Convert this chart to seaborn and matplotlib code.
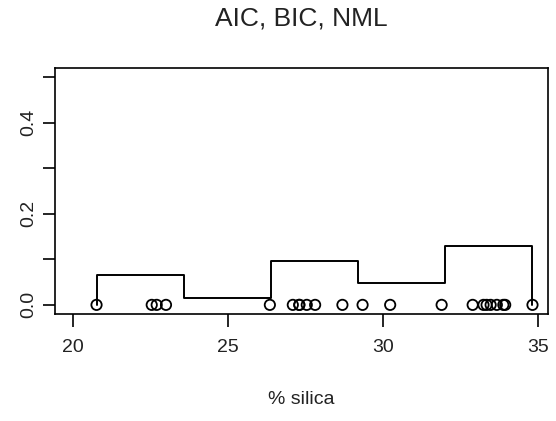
import numpy as np
import pandas as pd
import seaborn as sns
import matplotlib
matplotlib.use("Agg")
import matplotlib.pyplot as plt

# Step 1: silica values
silica = [20.77, 22.55, 22.71, 23.01, 26.36, 27.10, 27.31, 27.31, 27.55, 27.82,
          28.70, 29.35, 30.24, 31.90, 32.90, 33.25, 33.35, 33.48, 33.68, 33.89,
          33.95, 34.83]
n_bins = 5
y_ticks = [0.0, 0.1, 0.2, 0.3, 0.4, 0.5]
y_tick_labels = ["0.0", "", "0.2", "", "0.4", ""]
x_ticks = [20, 25, 30, 35]

df = pd.DataFrame({"silica": silica, "zero": 0.0})

# Step 2: R-like base style
sns.set_style("ticks")
plt.rcParams["font.family"] = ["Liberation Sans", "DejaVu Sans"]

fig = plt.figure(figsize=(5.56, 4.21), dpi=100)
ax = fig.add_axes([0.0989, 0.2542, 0.8867, 0.5843])

# Step 3: density histogram outline + points on the baseline
sns.histplot(data=df, x="silica", bins=n_bins, stat="density", element="step",
             fill=False, color="black", linewidth=1.4, ax=ax)
# close the outline down to the baseline at both ends (like R's hist)
step = ax.lines[0]
sx, sy = np.asarray(step.get_xdata()), np.asarray(step.get_ydata())
step.set_data(np.r_[sx[0], sx, sx[-1]], np.r_[0.0, sy, 0.0])

sns.scatterplot(data=df, x="silica", y="zero", marker="o", s=55,
                facecolors="none", edgecolor="black", linewidth=1.3, ax=ax)

ax.set_xlim(19.43, 35.33)
ax.set_ylim(-0.02, 0.52)
ax.set_xticks(x_ticks)
ax.set_xticklabels([str(t) for t in x_ticks], fontsize=14)
ax.set_yticks(y_ticks)
ax.set_yticklabels(y_tick_labels, fontsize=14, rotation=90, va="center")
ax.tick_params(axis="both", length=9, width=1.2, color="black", labelcolor="#222222")
ax.tick_params(axis="x", pad=9)
ax.tick_params(axis="y", pad=4)
for sp in ax.spines.values():
    sp.set_visible(True)
    sp.set_linewidth(1.2)
    sp.set_color("black")

ax.set_xlabel("% silica", fontsize=14, color="#222222", labelpad=25)
ax.set_ylabel("")
fig.suptitle("AIC, BIC, NML", fontsize=19, color="#222222", x=0.542, y=0.985)

plt.savefig("out.png", dpi=100)
